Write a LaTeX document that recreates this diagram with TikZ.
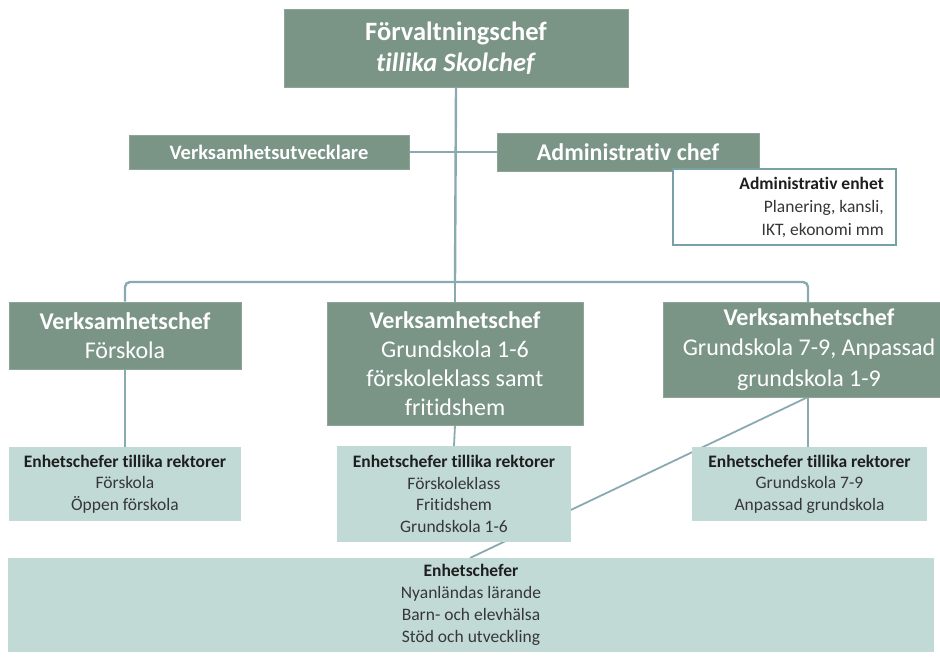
\documentclass[tikz,border=0pt]{standalone}
\usepackage{fontspec}
\setmainfont{Carlito}[Ligatures={NoCommon}]
\usetikzlibrary{backgrounds}
\pgfdeclarelayer{lines}
\pgfsetlayers{background,lines,main}
\definecolor{darkbox}{RGB}{122,148,134}
\definecolor{lightbox}{RGB}{193,218,214}
\definecolor{conn}{RGB}{137,170,176}
\definecolor{frame}{RGB}{120,160,166}
\definecolor{txtdark}{RGB}{30,30,30}
\definecolor{txtgray}{RGB}{55,55,55}
\begin{document}
\begin{tikzpicture}[x=1pt,y=1pt,
  chefbox/.style={fill=darkbox, draw=darkbox!85!white, line width=0.6pt, text=white, align=center, inner sep=0pt, font=\fontsize{24}{29.5}\selectfont},
  unitbox/.style={fill=lightbox, draw=none, text=txtgray, align=center, inner sep=0pt, font=\fontsize{17.5}{21.5}\selectfont},
  link/.style={draw=conn, line width=2.4pt}
]
\begin{pgfonlayer}{background}
\fill[white] (0,0) rectangle (940,-661);
\end{pgfonlayer}
\useasboundingbox (0,0) rectangle (940,-661);

% top
\node[chefbox, minimum width=344, minimum height=78, font=\fontsize{26.5}{31}\selectfont] (top) at (456,-48)
  {\textbf{Förvaltningschef}\\\textbf{\textit{tillika Skolchef}}};
\node[chefbox, minimum width=280, minimum height=34, font=\fontsize{20.5}{24}\selectfont\bfseries] (utv) at (269,-152) {Verksamhetsutvecklare};
\node[chefbox, minimum width=262, minimum height=38, font=\fontsize{24}{28}\selectfont\bfseries] (adm) at (628,-152) {Administrativ chef};
\node[fill=white, draw=frame, line width=2.5pt, minimum width=223, minimum height=76, inner sep=0pt] (admenh) at (784.5,-207) {};
\node[anchor=east, align=right, inner sep=0pt, text=txtgray, font=\fontsize{17.5}{23}\selectfont] (admtxt) at (884,-207)
  {\textcolor{txtdark}{\textbf{Administrativ enhet}}\\Planering, kansli,\\IKT, ekonomi mm};

% level 2
\node[chefbox, minimum width=232, minimum height=67] (vA) at (125,-335.5)
  {\textbf{Verksamhetschef}\\Förskola};
\node[chefbox, minimum width=256, minimum height=123, font=\fontsize{24}{29}\selectfont] (vB) at (455,-363.5)
  {\textbf{Verksamhetschef}\\Grundskola 1-6\\förskoleklass samt\\fritidshem};
\node[chefbox, minimum width=292, minimum height=95, font=\fontsize{24}{30.5}\selectfont] (vC) at (809,-349.5)
  {\textbf{Verksamhetschef}\\Grundskola 7-9, Anpassad\\grundskola 1-9};

% level 3
\node[unitbox, minimum width=232, minimum height=74] (eA) at (125,-484)
  {\textcolor{txtdark}{\textbf{Enhetschefer tillika rektorer}}\\Förskola\\Öppen förskola};
\node[unitbox, minimum width=234, minimum height=96] (eB) at (454,-494)
  {\textcolor{txtdark}{\textbf{Enhetschefer tillika rektorer}}\\Förskoleklass\\Fritidshem\\Grundskola 1-6};
\node[unitbox, minimum width=235, minimum height=74] (eC) at (809.5,-484)
  {\textcolor{txtdark}{\textbf{Enhetschefer tillika rektorer}}\\Grundskola 7-9\\Anpassad grundskola};
\node[unitbox, minimum width=926, minimum height=94, font=\fontsize{17.5}{22}\selectfont] (eAll) at (471,-605)
  {\textcolor{txtdark}{\textbf{Enhetschefer}}\\Nyanländas lärande\\Barn- och elevhälsa\\Stöd och utveckling};

\coordinate (bar) at (455,-282);
\coordinate (cTop) at (808,-302);
\coordinate (cBot) at (808,-397);
\coordinate (allTop) at (470,-558);

\begin{pgfonlayer}{lines}
  \draw[link] (top.south) -- (bar);
  \draw[link] (utv.east) -- (adm.west);
  \draw[link, rounded corners=5pt] (vA.north) |- (bar) -| (cTop);
  \draw[link] (bar) -- (vB.north);
  \draw[link, line width=1.8pt] (vA.south) -- (eA.north);
  \draw[link, line width=1.8pt] (vB.south) -- (eB.north);
  \draw[link, line width=1.8pt] (cBot) -- (cBot |- eC.north);
  \draw[link, line width=1.8pt] (cBot) -- (allTop);
\end{pgfonlayer}
\end{tikzpicture}
\end{document}
